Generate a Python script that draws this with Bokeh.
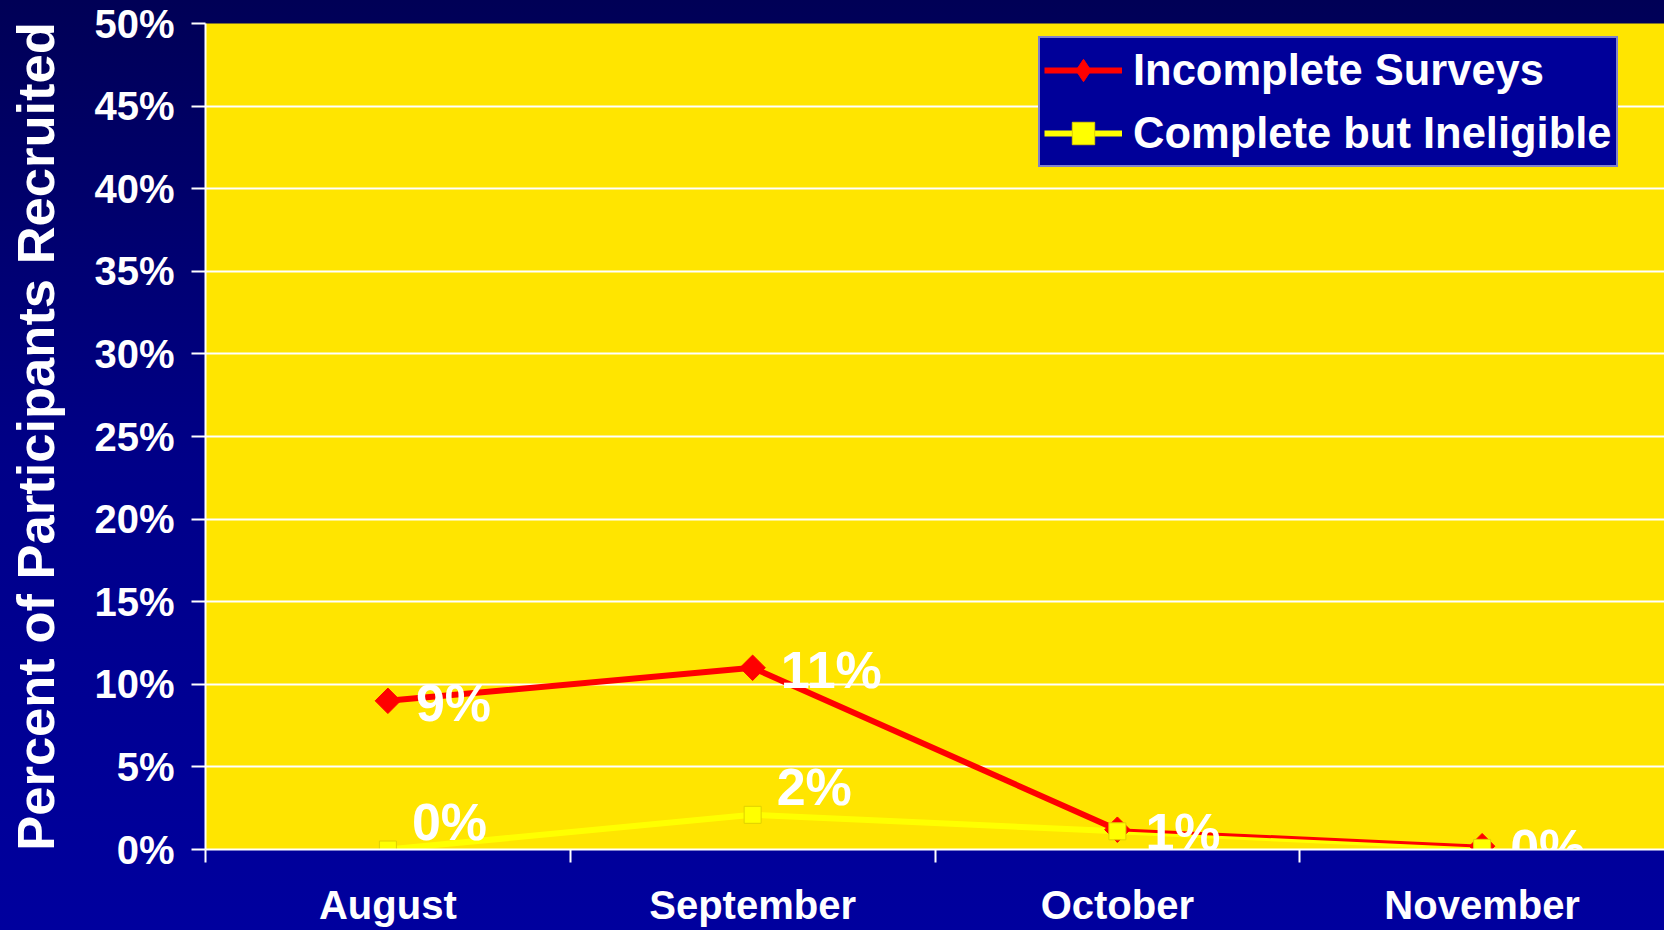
import math
from bokeh.plotting import figure
from bokeh.models import (FixedTicker, Legend, LegendItem, ColumnDataSource, Range1d,
                          Label)
from bokeh.embed import file_html
from bokeh.resources import INLINE

# ---- data ----
months = ["August", "September", "October", "November"]
incomplete = [9.0, 11.0, 1.2, 0.2]          # percent
incomplete_labels = ["9%", "11%", "1%", "0%"]
ineligible = [0.0, 2.1, 1.1, 0.1]           # percent
ineligible_labels = ["0%", "2%", "", ""]
y_ticks = [0, 5, 10, 15, 20, 25, 30, 35, 40, 45, 50]
y_tick_labels = ["%d%%" % t for t in y_ticks]

FONT = "Liberation Sans"
xs = [i + 0.5 for i in range(len(months))]

p = figure(width=1664, height=930, output_backend="svg", toolbar_location=None,
           x_range=Range1d(0, 4), y_range=Range1d(0, 50),
           min_border_left=205, min_border_right=0, min_border_top=23,
           min_border_bottom=81)
p.border_fill_color = None
p.background_fill_color = "#FFE500"
p.outline_line_color = None

# axes
p.xaxis.ticker = FixedTicker(ticks=xs, minor_ticks=[0, 1, 2, 3])
p.xaxis.major_label_overrides = {x: m for x, m in zip(xs, months)}
p.xaxis.major_tick_line_color = None
p.xaxis.major_tick_out = 0
p.xaxis.major_tick_in = 0
p.xaxis.minor_tick_line_color = "white"
p.xaxis.minor_tick_line_width = 2
p.xaxis.minor_tick_out = 13
p.xaxis.minor_tick_in = 0
p.xaxis.major_label_standoff = 20

p.yaxis.ticker = FixedTicker(ticks=y_ticks, minor_ticks=[])
p.yaxis.major_label_overrides = {t: l for t, l in zip(y_ticks, y_tick_labels)}
p.yaxis.major_tick_out = 14
p.yaxis.major_tick_in = 0
p.yaxis.major_tick_line_color = "white"
p.yaxis.major_tick_line_width = 2
p.yaxis.major_label_standoff = 17
p.yaxis.axis_label = "Percent of Participants Recruited"
p.yaxis.axis_label_standoff = 26
p.yaxis.axis_label_text_font = FONT
p.yaxis.axis_label_text_font_style = "bold"
p.yaxis.axis_label_text_font_size = "52.5px"
p.yaxis.axis_label_text_color = "white"

for ax in (p.xaxis, p.yaxis):
    ax.axis_line_color = "white"
    ax.axis_line_width = 2
    ax.major_label_text_color = "white"
    ax.major_label_text_font = FONT
    ax.major_label_text_font_style = "bold"
    ax.major_label_text_font_size = "40px"

p.xgrid.grid_line_color = None
p.ygrid.grid_line_color = "white"
p.ygrid.grid_line_width = 2

# series
src_red = ColumnDataSource(dict(x=xs, y=incomplete))
src_yel = ColumnDataSource(dict(x=xs, y=ineligible))

yl = p.line("x", "y", source=src_yel, line_color="#FFFF00", line_width=6)
r1 = p.line(xs[:3], incomplete[:3], line_color="#FF0000", line_width=6)
r2 = p.line(xs[2:], incomplete[2:], line_color="#FF0000", line_width=3)
rm = p.scatter("x", "y", source=src_red, marker="square", angle=math.pi / 4,
               size=18, fill_color="#FF0000", line_color="#FF0000")
# marker used only for the legend swatch (no data points in the plot area)
rm_leg = p.scatter(x=[float("nan")], y=[float("nan")], marker="diamond", size=30,
                   fill_color="#FF0000", line_color="#FF0000")
ym = p.scatter("x", "y", source=src_yel, marker="square", size=17,
               fill_color="#FFFF00", line_color="#E0D000", line_width=1)

# data labels
for series, texts, dx, dy in ((incomplete, incomplete_labels, 28, -2),
                              (ineligible, ineligible_labels, 24, 28)):
    for xv, yv, t in zip(xs, series, texts):
        if not t:
            continue
        p.add_layout(Label(x=xv, y=yv, text=t, x_offset=dx, y_offset=dy,
                           text_color="white", text_font=FONT,
                           text_font_style="bold", text_font_size="52px",
                           text_baseline="middle", text_align="left"))

legend = Legend(items=[LegendItem(label="Incomplete Surveys", renderers=[r1, rm_leg]),
                       LegendItem(label="Complete but Ineligible", renderers=[yl, ym])],
                location=(833, 682))
legend.background_fill_color = "#000099"
legend.background_fill_alpha = 1
legend.border_line_color = "white"
legend.border_line_width = 2
legend.label_text_color = "white"
legend.label_text_font = FONT
legend.label_text_font_style = "bold"
legend.label_text_font_size = "43.5px"
legend.glyph_width = 78
legend.glyph_height = 56
legend.label_height = 56
legend.label_standoff = 11
legend.padding = 4
legend.spacing = 7
legend.margin = 0
p.add_layout(legend, "center")

html = file_html(p, INLINE)
css = ("<style>html{background:linear-gradient(to bottom,#000056 0px,#000088 465px,"
       "#00009E 930px) no-repeat; background-color:#00009E; overflow:hidden;}"
       "body{background:transparent; overflow:hidden;}</style>")
html = html.replace("<head>", "<head>" + css, 1)
open("out.html", "w").write(html)
